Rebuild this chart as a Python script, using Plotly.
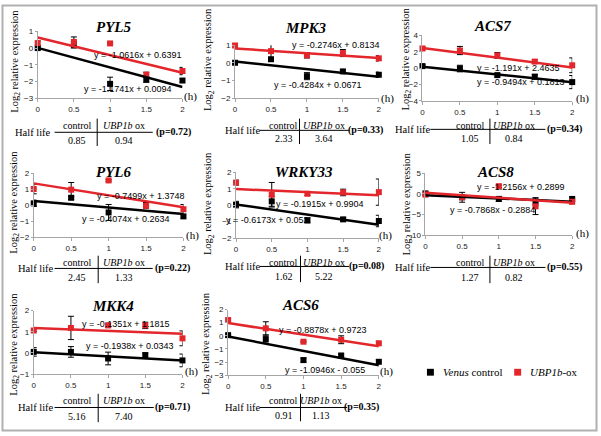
import plotly.graph_objects as go

W, H = 601, 436

# time points (h)
hours = [0, 0.5, 1, 1.5, 2]
xticks = [0, 0.5, 1, 1.5, 2]

# PYL5
pyl5_ctrl = [0.0, 0.2, -2.15, -1.9, -1.95]
pyl5_ctrl_err = [0.1, 0.2, 0.4, 0.15, 0.1]
pyl5_ox = [0.3, 0.37, 0.28, -1.6, -1.38]
pyl5_ox_err = [0.12, 0.3, 0.05, 0.15, 0.22]
# MPK3
mpk3_ctrl = [0.0, 0.2, -0.76, -0.49, -0.68]
mpk3_ctrl_err = [0.05, 0.1, 0.2, 0.07, 0.15]
mpk3_ox = [0.98, 0.66, 0.42, 0.55, 0.25]
mpk3_ox_err = [0.1, 0.4, 0.15, 0.2, 0.15]
# ACS7
acs7_ctrl = [0.25, -0.05, -0.85, -1.05, -1.7]
acs7_ctrl_err = [0.15, 0.4, 0.2, 0.3, 0.8]
acs7_ox = [2.4, 2.15, 1.55, 0.8, 0.35]
acs7_ox_err = [0.2, 0.5, 0.35, 0.2, 0.9]
# PYL6
pyl6_ctrl = [0.12, 0.47, -0.45, 0.06, -0.7]
pyl6_ctrl_err = [0.2, 0.1, 0.5, 0.1, 0.1]
pyl6_ox = [1.02, 0.98, 1.56, -0.04, -0.25]
pyl6_ox_err = [0.3, 0.45, 0.05, 0.15, 0.3]
# WRKY33
wrky33_ctrl = [0.04, 0.24, -0.92, -0.86, -0.96]
wrky33_ctrl_err = [0.2, 0.3, 0.15, 0.1, 0.35]
wrky33_ox = [1.38, 0.64, 0.7, 0.78, 0.8]
wrky33_ox_err = [0.15, 0.75, 0.1, 0.2, 0.8]
# ACS8
acs8_ctrl = [0.15, -0.8, -1.2, -1.9, -1.2]
acs8_ctrl_err = [0.3, 1.2, 0.6, 1.0, 0.5]
acs8_ox = [-0.15, -0.8, 1.9, -3.0, -1.9]
acs8_ox_err = [0.3, 0.5, 0.3, 2.0, 0.5]
# MKK4
mkk4_ctrl = [0.05, 0.05, -0.26, -0.1, -0.35]
mkk4_ctrl_err = [0.2, 0.25, 0.3, 0.1, 0.3]
mkk4_ox = [1.06, 1.18, 1.3, 1.3, 0.69]
mkk4_ox_err = [0.05, 0.55, 0.1, 0.15, 0.35]
# ACS6
acs6_ctrl = [0.05, -0.25, -1.85, -1.5, -1.98]
acs6_ctrl_err = [0.05, 0.3, 0.15, 0.1, 0.15]
acs6_ox = [1.2, 0.57, -0.45, -0.3, -0.57]
acs6_ox_err = [0.1, 0.5, 0.05, 0.3, 0.15]

genes = ["PYL5", "MPK3", "ACS7", "PYL6", "WRKY33", "ACS8", "MKK4", "ACS6"]
ctrl_means = [pyl5_ctrl, mpk3_ctrl, acs7_ctrl, pyl6_ctrl, wrky33_ctrl, acs8_ctrl, mkk4_ctrl, acs6_ctrl]
ctrl_errs = [pyl5_ctrl_err, mpk3_ctrl_err, acs7_ctrl_err, pyl6_ctrl_err, wrky33_ctrl_err,
             acs8_ctrl_err, mkk4_ctrl_err, acs6_ctrl_err]
ox_means = [pyl5_ox, mpk3_ox, acs7_ox, pyl6_ox, wrky33_ox, acs8_ox, mkk4_ox, acs6_ox]
ox_errs = [pyl5_ox_err, mpk3_ox_err, acs7_ox_err, pyl6_ox_err, wrky33_ox_err,
           acs8_ox_err, mkk4_ox_err, acs6_ox_err]

# linear fits shown on the chart (slope, intercept)
ctrl_slope = [-1.1741, -0.4284, -0.9494, -0.4074, -0.6173, -0.7868, -0.1938, -1.0946]
ctrl_icpt = [0.0094, 0.0671, 0.1813, 0.2634, 0.052, -0.2884, 0.0343, -0.055]
ox_slope = [-1.0616, -0.2746, -1.191, -0.7499, -0.1915, -1.2156, -0.1351, -0.8878]
ox_icpt = [0.6391, 0.8134, 2.4635, 1.3748, 0.9904, 0.2899, 1.1815, 0.9723]

half_ctrl = ["0.85", "2.33", "1.05", "2.45", "1.62", "1.27", "5.16", "0.91"]
half_ox = ["0.94", "3.64", "0.84", "1.33", "5.22", "0.82", "7.40", "1.13"]
pvals = ["0.72", "0.33", "0.34", "0.22", "0.08", "0.55", "0.71", "0.35"]

yranges = [(-3, 1), (-2, 1), (-4, 4), (-2, 2), (-2, 2), (-10, 5), (-1, 2), (-3, 2)]
ydticks = [1, 1, 2, 1, 1, 5, 1, 1]

# plot boxes in pixels: left, right, top, bottom
boxes = [(36, 182, 28, 96), (235, 380, 42, 96), (424, 575, 32, 99),
         (32, 183, 173, 238), (236, 380, 172, 239), (427, 575, 173, 236),
         (32, 182, 313, 378), (228, 380, 312, 379)]
# text positions per panel (pixels)
titles_xy = [(112, 23), (307, 25), (495, 22), (112, 172), (305, 172), (498, 172), (112, 308), (301, 307)]
ylab_xy = [(14, 58), (209, 57), (408, 56), (13, 202), (209, 204), (409, 204), (13, 347), (207, 347)]
eq_ox_xy = [(137, 52), (337, 42), (521, 65), (140, 196), (321, 204), (523, 187), (125, 327), (324, 333)]
eq_ctrl_xy = [(127, 87), (319, 83), (523, 80), (125, 220), (268, 221), (495, 210), (129, 349), (326, 374)]
# table: half-life label x, line x0, line x1, vline x, col1 x, col2 x, p x, row y (header, line, values)
tables = [
    (31, 53, 152, 96, 76, 123, 173, (124, 131, 139)),
    (243, 260, 350, 300, 284, 325, 367, (124, 129, 137)),
    (414, 432, 548, 492, 472, 516, 567, (124, 128, 137)),
    (34, 53, 152, 97, 76, 123, 172, (264, 270, 279)),
    (243, 260, 350, 301, 284, 325, 368, (264, 268, 278)),
    (414, 432, 548, 492, 472, 516, 567, (264, 269, 279)),
    (34, 53, 153, 97, 76, 123, 172, (405, 412, 421)),
    (243, 260, 348, 301, 284, 322, 363, (405, 412, 420)),
]
h_xy = [(190, 94), (389, 96), (585, 96), (192, 236), (387, 236), (585, 234), (191, 375), (388, 375)]

RED = "#e3262b"
AXIS = "#a6a6a6"
SERIF = "Liberation Serif"
SANS = "Liberation Sans"

fig = go.Figure()


def px(x, y):
    return x / W, 1 - y / H


def text(x, y, s, size, family=SERIF, color="black", angle=0, xanchor="center"):
    xp, yp = px(x, y)
    fig.add_annotation(x=xp, y=yp, xref="paper", yref="paper", text=s, showarrow=False,
                       xanchor=xanchor, yanchor="middle", textangle=angle,
                       font=dict(family=family, size=size, color=color))


def line(x0, y0, x1, y1, color="black", width=1):
    a, b = px(x0, y0)
    c, d = px(x1, y1)
    fig.add_shape(type="line", xref="paper", yref="paper", x0=a, y0=b, x1=c, y1=d,
                  line=dict(color=color, width=width))


def fmt(m, c):
    sign = "+" if c >= 0 else "-"
    return "y = %gx %s %g" % (m, sign, abs(c))


for i, g in enumerate(genes):
    n = "" if i == 0 else str(i + 1)
    xa, ya = "x" + n, "y" + n
    l, r, t, b = boxes[i]
    fig.update_layout(**{
        "xaxis" + n: dict(domain=[l / W, r / W], anchor=ya, range=[0, 2], tickvals=xticks,
                          ticktext=["0", "0.5", "1", "1.5", "2"], showline=True, linecolor=AXIS,
                          ticks="outside", ticklen=3, tickcolor=AXIS, showgrid=False, zeroline=False,
                          tickfont=dict(family=SANS, size=8, color="#222")),
        "yaxis" + n: dict(domain=[1 - b / H, 1 - t / H], anchor=xa, range=list(yranges[i]),
                          dtick=ydticks[i], showline=True, linecolor=AXIS, ticks="outside",
                          ticklen=2, tickcolor=AXIS, showgrid=False, zeroline=False,
                          tickfont=dict(family=SANS, size=8, color="#222")),
    })
    fig.add_trace(go.Scatter(x=hours, y=ctrl_means[i], mode="markers", xaxis=xa, yaxis=ya,
                             marker=dict(symbol="square", size=6, color="black"),
                             error_y=dict(type="data", array=ctrl_errs[i], color="black",
                                          thickness=1, width=3),
                             cliponaxis=False, showlegend=False))
    fig.add_trace(go.Scatter(x=hours, y=ox_means[i], mode="markers", xaxis=xa, yaxis=ya,
                             marker=dict(symbol="square", size=6, color=RED),
                             error_y=dict(type="data", array=ox_errs[i], color="black",
                                          thickness=1, width=3),
                             cliponaxis=False, showlegend=False))
    fx = [hours[0], hours[-1]]
    fig.add_trace(go.Scatter(x=fx, y=[ctrl_slope[i] * v + ctrl_icpt[i] for v in fx], mode="lines",
                             xaxis=xa, yaxis=ya, line=dict(color="black", width=2.5),
                             cliponaxis=False, showlegend=False))
    fig.add_trace(go.Scatter(x=fx, y=[ox_slope[i] * v + ox_icpt[i] for v in fx], mode="lines",
                             xaxis=xa, yaxis=ya, line=dict(color=RED, width=2.5),
                             cliponaxis=False, showlegend=False))

    # titles and labels
    text(*titles_xy[i], "<b><i>%s</i></b>" % g, 15)
    text(*ylab_xy[i], "Log<sub>2</sub> relative expression", 10.5, angle=-90)
    text(*h_xy[i], "(h)", 11)

    text(*eq_ox_xy[i], fmt(ox_slope[i], ox_icpt[i]), 9, family=SANS)
    text(*eq_ctrl_xy[i], fmt(ctrl_slope[i], ctrl_icpt[i]), 9, family=SANS)

    # half life table
    hx, lx0, lx1, vx, c1, c2, pxp, (yh, yl, yv) = tables[i]
    text(hx, yl, "Half life", 10.5)
    line(lx0, yl, lx1, yl)
    line(vx, yh - 7, vx, yv + 6)
    text(c1, yh, "control", 10)
    text(c2, yh, "<i>UBP1b</i> ox", 10)
    text(c1, yv, half_ctrl[i], 10)
    text(c2, yv, half_ox[i], 10)
    text(pxp, yl, "<b>(p=%s)</b>" % pvals[i], 10)

# legend
for sx, col, label, tx in [(432, "black", "<i>Venus</i> control", 443),
                           (520, RED, "<i>UBP1b</i>-ox", 530)]:
    a, b = px(sx - 3.5, 372.5)
    c, d = px(sx + 3.5, 379.5)
    fig.add_shape(type="rect", xref="paper", yref="paper", x0=a, y0=b, x1=c, y1=d,
                  fillcolor=col, line=dict(width=0))
    text(tx, 376, label, 11, xanchor="left")

# outer frame
fig.add_shape(type="rect", xref="paper", yref="paper", x0=0.5 / W, y0=0.5 / H,
              x1=1 - 1.5 / W, y1=1 - 1.5 / H, line=dict(color="#b0b0b0", width=2))

fig.update_layout(width=W, height=H, margin=dict(l=0, r=0, t=0, b=0),
                  paper_bgcolor="white", plot_bgcolor="white", showlegend=False)

fig.write_html("out.html", config={"displayModeBar": False},
               post_script="document.body.style.margin='0';")
